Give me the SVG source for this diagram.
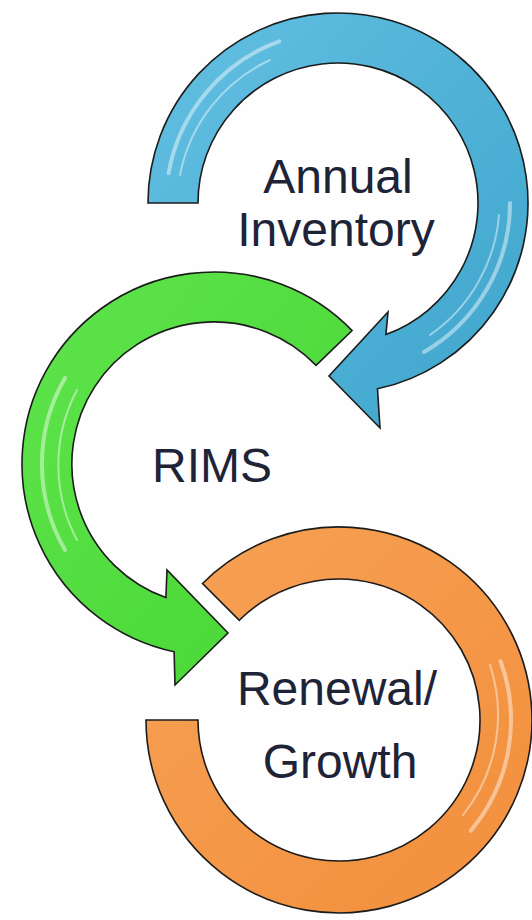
<svg xmlns="http://www.w3.org/2000/svg" width="532" height="920" viewBox="0 0 532 920">
  <defs>
    <linearGradient id="gBlue" x1="0" y1="0" x2="1" y2="1">
      <stop offset="0" stop-color="#63c0e2"/>
      <stop offset="1" stop-color="#3ea4cc"/>
    </linearGradient>
    <linearGradient id="gGreen" x1="0" y1="0" x2="1" y2="1">
      <stop offset="0" stop-color="#5fe44c"/>
      <stop offset="1" stop-color="#47d634"/>
    </linearGradient>
    <linearGradient id="gOrange" x1="0" y1="0" x2="1" y2="1">
      <stop offset="0" stop-color="#f7a155"/>
      <stop offset="1" stop-color="#f28f3c"/>
    </linearGradient>
  </defs>
  <style>
    .arrow { stroke: #1b1b1b; stroke-width: 1.6; stroke-linejoin: miter; }
    .hl { fill: none; stroke: #ffffff; stroke-opacity: 0.45; stroke-linecap: round; }
    .label { font-family: "Liberation Sans", Arial, sans-serif; font-size: 48px; fill: #1e2438; text-anchor: middle; }
  </style>
  <rect width="532" height="920" fill="#fefefe"/>

  <g id="annual-inventory">
    <path class="arrow" fill="url(#gBlue)" d="M 198,203 L 148,203 A 190 190 0 1 1 377.5,388.8 L 380,428 L 329,376 L 388,312 L 385.9,334.6 A 140 140 0 1 0 198,203 Z"/>
    <path class="hl" stroke-width="4" d="M 168.6,173.1 A 172 172 0 0 1 279.2,41.4"/>
    <path class="hl" stroke-width="2" d="M 180,175 A 160 160 0 0 1 270,60"/>
    <path class="hl" stroke-width="4" d="M 510,203 A 172 172 0 0 1 424,352"/>
    <path class="hl" stroke-width="2" d="M 499,215 A 162 162 0 0 1 430,335"/>
    <text class="label" x="338" y="193">Annual</text>
    <text class="label" x="336" y="246">Inventory</text>
  </g>

  <g id="rims">
    <path class="arrow" fill="url(#gGreen)" d="M 352.1,330.6 A 192 192 0 1 0 174.1,651.8 L 175,685 L 228,633 L 167,570 L 165.9,597.6 A 142 142 0 1 1 316.1,365.4 Z"/>
    <path class="hl" stroke-width="4" d="M 65,550 A 172 172 0 0 1 65,378"/>
    <path class="hl" stroke-width="2" d="M 77,540 A 160 160 0 0 1 77,390"/>
    <text class="label" x="212" y="482">RIMS</text>
  </g>

  <g id="renewal-growth">
    <path class="arrow" fill="url(#gOrange)" d="M 202.5,583.5 A 193 193 0 1 1 146,720 L 198,720 A 141 141 0 1 0 239.3,620.3 Z"/>
    <path class="hl" stroke-width="4" d="M 500.6,661.2 A 172 172 0 0 1 470.8,830.6"/>
    <path class="hl" stroke-width="2" d="M 490,665 A 160 160 0 0 1 463,815"/>
    <text class="label" x="337" y="705">Renewal/</text>
    <text class="label" x="340" y="778">Growth</text>
  </g>

  <g id="connectors"/>
</svg>
